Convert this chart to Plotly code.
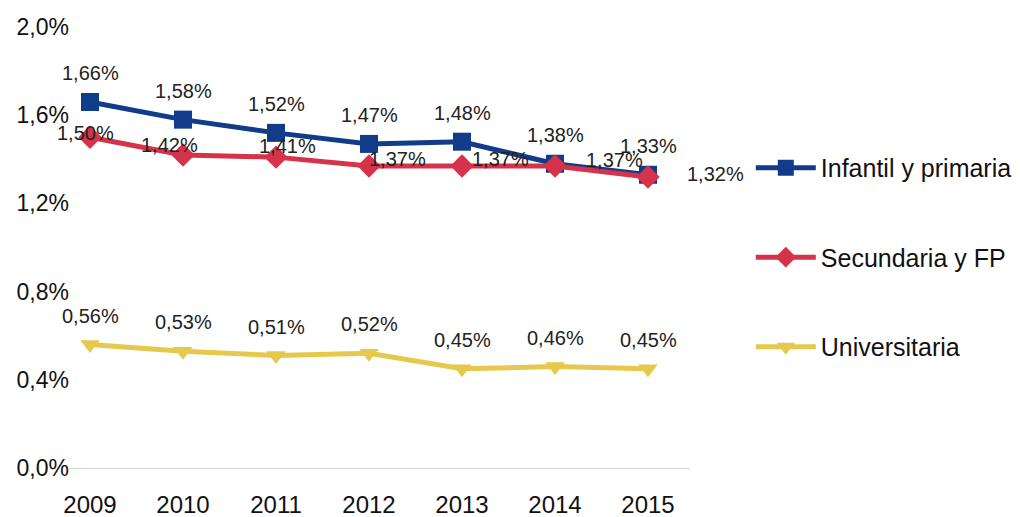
import plotly.graph_objects as go

years = [2009, 2010, 2011, 2012, 2013, 2014, 2015]
infantil = [1.66, 1.58, 1.52, 1.47, 1.48, 1.38, 1.33]
secundaria = [1.50, 1.42, 1.41, 1.37, 1.37, 1.37, 1.32]
universitaria = [0.56, 0.53, 0.51, 0.52, 0.45, 0.46, 0.45]
series_names = ["Infantil y primaria", "Secundaria y FP", "Universitaria"]
y_tick_vals = [0.0, 0.4, 0.8, 1.2, 1.6, 2.0]
y_tick_text = ["0,0%", "0,4%", "0,8%", "1,2%", "1,6%", "2,0%"]


def fmt(v):
    return f"{v:.2f}%".replace(".", ",")


FONT = "Liberation Sans, Arial, sans-serif"
BLUE = "#113c8a"
RED = "#d6334b"
YELLOW = "#e6c84c"
LABEL_FONT = dict(size=20, color="#222", family=FONT)

fig = go.Figure()
fig.add_trace(go.Scatter(
    x=years, y=infantil, name=series_names[0], legendgroup="a",
    mode="lines+markers",
    line=dict(color=BLUE, width=5),
    marker=dict(symbol="square", size=18, color=BLUE),
    cliponaxis=False,
))
fig.add_trace(go.Scatter(
    x=years, y=secundaria, name=series_names[1], legendgroup="b",
    mode="lines+markers",
    line=dict(color=RED, width=5),
    marker=dict(symbol="diamond", size=18, color=RED),
    cliponaxis=False,
))
fig.add_trace(go.Scatter(
    x=years, y=universitaria, name=series_names[2], legendgroup="c",
    mode="lines+markers",
    line=dict(color=YELLOW, width=5),
    marker=dict(symbol="triangle-down", size=17, color=YELLOW),
    cliponaxis=False,
))

# Value labels
for x, v in zip(years, infantil):
    fig.add_annotation(x=x, y=v, text=fmt(v), showarrow=False,
                       yshift=29, font=LABEL_FONT)
for x, v in zip(years, universitaria):
    fig.add_annotation(x=x, y=v, text=fmt(v), showarrow=False,
                       yshift=29, font=LABEL_FONT)
# Label offsets (pixels) for the "Secundaria y FP" labels, as placed in the original
sec_xshift = [-5, -14, 11, 28, 38, 59, 67]
sec_yshift = [4, 10, 11, 7, 7, 6, 3]
for x, v, dx, dy in zip(years, secundaria, sec_xshift, sec_yshift):
    fig.add_annotation(x=x, y=v, text=fmt(v), showarrow=False,
                       xshift=dx, yshift=dy, font=LABEL_FONT)

# The page body adds an 8px margin, so the figure is 8px smaller than the window
fig.update_layout(
    width=1012, height=509,
    margin=dict(l=62, r=330, t=12, b=49, autoexpand=False),
    paper_bgcolor="white", plot_bgcolor="white",
    font=dict(family=FONT, color="#111"),
    showlegend=True,
    legend=dict(
        xref="container", yref="container",
        x=0.734, y=0.731, xanchor="left", yanchor="top",
        font=dict(size=25, family=FONT, color="#111"),
        tracegroupgap=54, itemwidth=60,
        bgcolor="rgba(0,0,0,0)",
    ),
)
fig.update_xaxes(
    range=[2009 - 20 / 93, 2015 + 42 / 93],
    tickvals=years, ticktext=[str(y) for y in years],
    showgrid=False, zeroline=False, showline=False, ticks="",
    tickfont=dict(size=24, family=FONT, color="#111"),
    ticklabelstandoff=20, automargin=False,
)
fig.update_yaxes(
    range=[0, 2.032],
    tickvals=y_tick_vals, ticktext=y_tick_text,
    showgrid=False, zeroline=True, zerolinecolor="#d6d6d6", zerolinewidth=1,
    showline=False, ticks="",
    tickfont=dict(size=23, family=FONT, color="#111"),
    automargin=False,
)

fig.write_html("out.html")
